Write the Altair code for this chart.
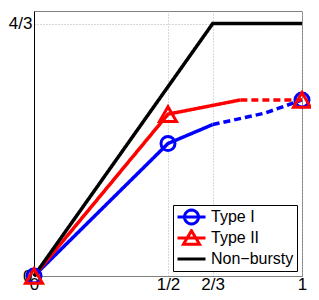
import math
import altair as alt
import pandas as pd

series_names = ["Type I", "Type II", "Non−bursty"]
series_colors = ["#0000ff", "#ff0000", "#000000"]

type1_solid_x = [0, 1/2, 2/3]
type1_solid_y = [0, 0.70, 0.80]
type1_dashed_x = [2/3, 0.86, 1]
type1_dashed_y = [0.80, 0.86, 0.93]
type2_solid_x = [0, 1/2, 0.77]
type2_solid_y = [0, 0.855, 0.93]
type2_dashed_x = [0.77, 1]
type2_dashed_y = [0.93, 0.93]
nonbursty_x = [0, 2/3, 1]
nonbursty_y = [0, 4/3, 4/3]

marker_x = [0, 1/2, 1]
type1_marker_y = [0, 0.70, 0.93]
type2_marker_y = [0, 0.855, 0.93]

x_tick_values = [0, 1/2, 2/3, 1]
x_tick_labels = ["0", "1/2", "2/3", "1"]
y_tick_values = [0, 4/3]
y_tick_labels = ["0", "4/3"]

FONT = "Liberation Sans"


def label_expr(values, labels):
    expr = "''"
    for v, l in zip(values, labels):
        expr = f"abs(datum.value - {v}) < 0.001 ? '{l}' : " + expr
    return expr


segments = [
    (series_names[0], "solid", type1_solid_x, type1_solid_y),
    (series_names[0], "dashed", type1_dashed_x, type1_dashed_y),
    (series_names[1], "solid", type2_solid_x, type2_solid_y),
    (series_names[1], "dashed", type2_dashed_x, type2_dashed_y),
    (series_names[2], "solid", nonbursty_x, nonbursty_y),
]

rows = []
for s, d, xs, ys in segments:
    for x, y in zip(xs, ys):
        rows.append({"series": s, "dash": d, "seg": s + d, "x": x, "y": y})
lines_df = pd.DataFrame(rows)

mrows = []
for s, ys in [(series_names[0], type1_marker_y), (series_names[1], type2_marker_y)]:
    for x, y in zip(marker_x, ys):
        mrows.append({"series": s, "x": x, "y": y})
markers_df = pd.DataFrame(mrows)

x_enc = alt.X(
    "x:Q",
    scale=alt.Scale(domain=[0, 1], nice=False, zero=False),
    axis=alt.Axis(
        values=x_tick_values,
        labelExpr=label_expr(x_tick_values, x_tick_labels),
        title=None,
        ticks=False,
        labelFlush=False,
        labelPadding=0,
        domainColor="#808080",
        grid=True,
    ),
)
y_enc = alt.Y(
    "y:Q",
    scale=alt.Scale(domain=[0, 1.4], nice=False, zero=False),
    axis=alt.Axis(
        values=y_tick_values,
        labelExpr=label_expr(y_tick_values, y_tick_labels),
        title=None,
        ticks=False,
        labelFlush=False,
        labelPadding=2,
        domainColor="#000000",
        grid=True,
    ),
)

layers = []
dash_map = {"solid": [1, 0], "dashed": [7, 4]}
for i, name in enumerate(series_names):
    for d in ["solid", "dashed"]:
        sub = lines_df[(lines_df.series == name) & (lines_df.dash == d)]
        if len(sub) == 0:
            continue
        layers.append(
            alt.Chart(sub)
            .mark_line(strokeWidth=3.5, strokeDash=dash_map[d], clip=False)
            .encode(x=x_enc, y=y_enc, color=alt.value(series_colors[i]))
        )

shapes = ["circle", "triangle-up"]
sizes = [196, 289]
for i in range(2):
    sub = markers_df[markers_df.series == series_names[i]]
    layers.append(
        alt.Chart(sub)
        .mark_point(filled=False, strokeWidth=3, shape=shapes[i], size=sizes[i], opacity=1)
        .encode(x=x_enc, y=y_enc, color=alt.value(series_colors[i]))
    )

# legend glyphs (line + marker), unit box scaled by sqrt(symbolSize)/2 = 7 px
ring = "".join(
    ("M" if k == 0 else "L") + f"{math.cos(2 * math.pi * k / 24):.3f},{math.sin(2 * math.pi * k / 24):.3f}"
    for k in range(24)
) + "Z"
legend_paths = [
    "M-2,0H2" + ring,
    "M-2,0H2M0,-1.05L1.15,0.9L-1.15,0.9Z",
    "M-2,0H2",
]
legend_df = pd.DataFrame({"series": series_names, "x": [0] * 3, "y": [0] * 3})
leg = alt.Legend(
    title=None,
    orient="bottom-right",
    offset=5,
    strokeColor="black",
    fillColor="white",
    padding=3,
    rowPadding=3,
    clipHeight=18,
    symbolOffset=7,
    labelOffset=11,
    labelFont=FONT,
    labelFontSize=16,
    labelColor="black",
    symbolSize=196,
    symbolStrokeWidth=3,
    symbolOpacity=1,
)
layers.append(
    alt.Chart(legend_df)
    .mark_point(filled=False, opacity=0)
    .encode(
        x=x_enc,
        y=y_enc,
        color=alt.Color("series:N", scale=alt.Scale(domain=series_names, range=series_colors), legend=leg),
        shape=alt.Shape("series:N", scale=alt.Scale(domain=series_names, range=legend_paths), legend=leg),
    )
)

chart = (
    alt.layer(*layers)
    .properties(
        width=303,
        height=284,
        padding={"left": 0, "top": 3, "right": -6, "bottom": 0},
        autosize=alt.AutoSizeParams(type="fit", contains="padding"),
    )
    .configure_view(stroke="#808080", strokeWidth=1)
    .configure_axis(
        labelFont=FONT,
        labelFontSize=17,
        labelColor="black",
        gridColor="#b0b0b0",
        gridDash=[1, 2],
        gridWidth=1,
        domainWidth=1,
    )
)

chart.save("out.html", embed_options={"renderer": "svg", "actions": False})
